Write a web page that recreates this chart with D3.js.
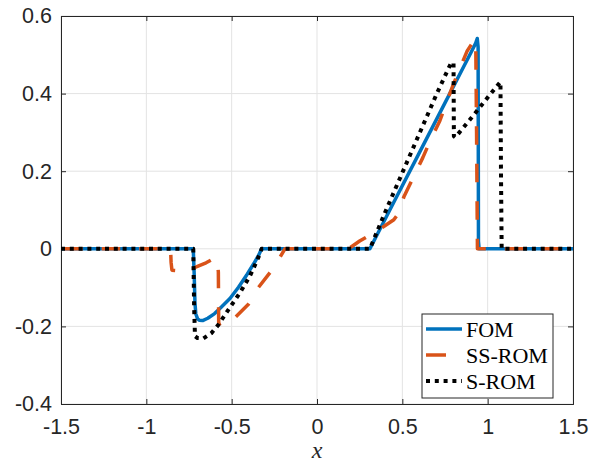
<!DOCTYPE html>
<html>
<head>
<meta charset="utf-8">
<script src="https://cdn.jsdelivr.net/npm/d3@7"></script>
<style>
  body { margin: 0; background: #fff; }
  svg { display: block; }
</style>
</head>
<body>
<svg id="chart" width="590" height="463"></svg>
<script>
// tick values
var xTicks = [-1.5, -1, -0.5, 0, 0.5, 1, 1.5];
var yTicks = [-0.4, -0.2, 0, 0.2, 0.4, 0.6];

// FOM
var fomX = [-1.5, -0.725, -0.72, -0.715, -0.71, -0.70, -0.69, -0.67, -0.64, -0.60, -0.56, -0.51, -0.46, -0.41, -0.37, -0.34, -0.325,
            0.31, 0.45, 0.60, 0.75, 0.90, 0.93, 0.939, 0.944, 0.946, 0.95, 1.5];
var fomY = [0, 0, -0.06, -0.14, -0.168, -0.18, -0.184, -0.185, -0.179, -0.167, -0.150, -0.128, -0.099, -0.066, -0.038, -0.015, 0,
            0, 0.12, 0.248, 0.376, 0.504, 0.53, 0.542, 0.52, 0.02, 0, 0];

// SS-ROM
var ssX = [-1.5, -0.858, -0.855, -0.85, -0.82, -0.75, -0.715, -0.65, -0.617, -0.585, -0.578, -0.576, -0.568, -0.52, -0.48, -0.402, -0.344, -0.275, -0.217, -0.188,
           0.185, 0.25, 0.30, 0.35, 0.40, 0.45, 0.475, 0.51, 0.56, 0.62, 0.67, 0.72, 0.77, 0.80, 0.84, 0.88, 0.92, 0.93, 0.935, 0.94, 1.5];
var ssY = [0, 0, -0.035, -0.055, -0.056, -0.052, -0.048, -0.036, -0.028, -0.023, -0.06, -0.19, -0.199, -0.19, -0.177, -0.143, -0.100, -0.061, -0.022, 0,
           0, 0.02, 0.033, 0.045, 0.06, 0.075, 0.09, 0.135, 0.18, 0.235, 0.285, 0.33, 0.39, 0.425, 0.468, 0.51, 0.537, 0.54, 0.30, 0, 0];

// S-ROM
var sX = [-1.5, -0.725, -0.72, -0.715, -0.70, -0.666, -0.62, -0.578, -0.51, -0.451, -0.393, -0.353, -0.334, -0.324,
          0.31, 0.40, 0.50, 0.60, 0.70, 0.76, 0.785, 0.80, 0.802, 0.81, 0.90, 1.00, 1.065, 1.075, 1.078, 1.082, 1.5];
var sY = [0, 0, -0.15, -0.225, -0.23, -0.231, -0.218, -0.196, -0.151, -0.113, -0.07, -0.032, -0.012, 0,
          0, 0.095, 0.196, 0.297, 0.398, 0.455, 0.478, 0.48, 0.29, 0.287, 0.335, 0.39, 0.425, 0.43, 0.20, 0, 0];

var seriesNames = ["FOM", "SS-ROM", "S-ROM"];
var seriesColors = ["#0072BD", "#D95319", "#000000"];

var svg = d3.select("#chart");
var margin = {left: 61, right: 17, top: 16, bottom: 59};
var width = +svg.attr("width") - margin.left - margin.right,
    height = +svg.attr("height") - margin.top - margin.bottom;
var axisColor = "#262626";

var x = d3.scaleLinear().domain([-1.5, 1.5]).range([0, width]);
var y = d3.scaleLinear().domain([-0.4, 0.6]).range([height, 0]);

var g = svg.append("g").attr("transform", "translate(" + margin.left + "," + margin.top + ")");

// grid
g.append("g").attr("class", "grid")
  .selectAll("line.gx").data(xTicks).enter().append("line")
  .attr("x1", function (d) { return x(d); }).attr("x2", function (d) { return x(d); })
  .attr("y1", 0).attr("y2", height)
  .attr("stroke", "#e3e3e3").attr("stroke-width", 1);
g.append("g").attr("class", "grid")
  .selectAll("line.gy").data(yTicks).enter().append("line")
  .attr("y1", function (d) { return y(d); }).attr("y2", function (d) { return y(d); })
  .attr("x1", 0).attr("x2", width)
  .attr("stroke", "#e3e3e3").attr("stroke-width", 1);

function fmt(d) { return d3.format("")(d).replace("\u2212", "-"); }

// axes (ticks inside, box on)
var tickLen = 5;
g.append("g").attr("transform", "translate(0," + height + ")")
  .call(d3.axisBottom(x).tickValues(xTicks).tickSize(-tickLen).tickPadding(15).tickFormat(fmt));
g.append("g")
  .call(d3.axisLeft(y).tickValues(yTicks).tickSize(-tickLen).tickPadding(9).tickFormat(fmt));
g.append("g")
  .call(d3.axisTop(x).tickValues(xTicks).tickSize(-tickLen).tickFormat(""));
g.append("g").attr("transform", "translate(" + width + ",0)")
  .call(d3.axisRight(y).tickValues(yTicks).tickSize(-tickLen).tickFormat(""));

g.selectAll(".domain").attr("stroke", axisColor).attr("stroke-width", 1);
g.selectAll(".tick line").attr("stroke", axisColor);
g.selectAll(".tick text")
  .attr("fill", axisColor)
  .style("font-family", "'Liberation Sans', Arial, sans-serif")
  .style("font-size", "21.5px");

// lines
function toPoints(xs, ys) {
  return xs.map(function (d, i) { return [d, ys[i]]; });
}
var line = d3.line()
  .x(function (d) { return x(d[0]); })
  .y(function (d) { return y(d[1]); });

var plot = g.append("g").attr("class", "lines");
plot.append("path").datum(toPoints(fomX, fomY))
  .attr("d", line).attr("fill", "none")
  .attr("stroke", seriesColors[0]).attr("stroke-width", 3.5)
  .attr("stroke-linejoin", "round");
plot.append("path").datum(toPoints(ssX, ssY))
  .attr("d", line).attr("fill", "none")
  .attr("stroke", seriesColors[1]).attr("stroke-width", 3.5)
  .attr("stroke-dasharray", "18.5,19")
  .attr("stroke-dashoffset", 34.3)
  .attr("stroke-linejoin", "round");
plot.append("path").datum(toPoints(sX, sY))
  .attr("d", line).attr("fill", "none")
  .attr("stroke", seriesColors[2]).attr("stroke-width", 4)
  .attr("stroke-dasharray", "4,4.8")
  .attr("stroke-linejoin", "round");

// x label
svg.append("text")
  .attr("x", margin.left + width / 2)
  .attr("y", 458)
  .attr("text-anchor", "middle")
  .style("font-family", "'Liberation Serif', 'DejaVu Serif', serif")
  .style("font-style", "italic")
  .style("font-size", "24px")
  .attr("fill", axisColor)
  .text("x");

// legend
var legend = svg.append("g").attr("transform", "translate(422,314)");
legend.append("rect")
  .attr("width", 131).attr("height", 84)
  .attr("fill", "#fff").attr("stroke", axisColor).attr("stroke-width", 1);
var dashes = [null, "20,16", "4,4.8"];
var widths = [3.5, 3.5, 4];
seriesNames.forEach(function (name, i) {
  var row = legend.append("g").attr("transform", "translate(0," + (15 + i * 26) + ")");
  row.append("line")
    .attr("x1", 4).attr("x2", 40).attr("y1", 0).attr("y2", 0)
    .attr("stroke", seriesColors[i]).attr("stroke-width", widths[i])
    .attr("stroke-dasharray", dashes[i]);
  row.append("text")
    .attr("x", 44).attr("y", 7.5)
    .style("font-family", "'Liberation Serif', 'DejaVu Serif', serif")
    .style("font-size", "22px")
    .attr("fill", "#000")
    .text(name);
});
</script>
</body>
</html>
